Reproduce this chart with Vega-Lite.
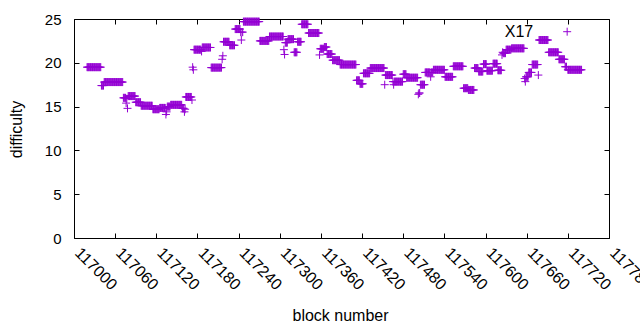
{
"$schema": "https://vega.github.io/schema/vega-lite/v6.json",
"width": 535, "height": 219,
"autosize": {"type": "none"},
"padding": {"left": 74, "top": 19, "right": 31, "bottom": 92},
"background": "white",
"config": {"view": {"stroke": "black", "strokeWidth": 1}, "font": "Liberation Sans"},
"datasets": {
"lab": [{"b": 117628, "d": 22.95, "t": "X17"}],
"pts": [
{"b":117019,"d":19.5},{"b":117020,"d":19.5},{"b":117021,"d":19.5},{"b":117022,"d":19.5},{"b":117023,"d":19.5},{"b":117024,"d":19.5},{"b":117025,"d":19.5},{"b":117026,"d":19.5},{"b":117027,"d":19.5},{"b":117028,"d":19.5},{"b":117029,"d":19.5},{"b":117030,"d":19.5},{"b":117031,"d":19.5},{"b":117032,"d":19.5},{"b":117033,"d":19.5},{"b":117034,"d":19.5},{"b":117035,"d":19.5},{"b":117036,"d":19.5},{"b":117037,"d":19.5},{"b":117038,"d":19.5},{"b":117039,"d":19.5},
{"b":117040,"d":17.4},{"b":117041,"d":17.4},{"b":117042,"d":17.4},{"b":117043,"d":17.4},
{"b":117044,"d":17.8},{"b":117045,"d":17.8},{"b":117046,"d":17.8},{"b":117047,"d":17.8},{"b":117048,"d":17.8},{"b":117049,"d":17.8},{"b":117050,"d":17.8},{"b":117051,"d":17.8},{"b":117052,"d":17.8},{"b":117053,"d":17.8},{"b":117054,"d":17.8},{"b":117055,"d":17.8},{"b":117056,"d":17.8},{"b":117057,"d":17.8},{"b":117058,"d":17.8},{"b":117059,"d":17.8},{"b":117060,"d":17.8},{"b":117061,"d":17.8},{"b":117062,"d":17.8},{"b":117063,"d":17.8},{"b":117064,"d":17.8},{"b":117065,"d":17.8},{"b":117066,"d":17.8},{"b":117067,"d":17.8},{"b":117068,"d":17.8},{"b":117069,"d":17.8},{"b":117070,"d":17.8},{"b":117071,"d":17.8},
{"b":117072,"d":16.0},{"b":117073,"d":16.0},{"b":117074,"d":16.0},{"b":117075,"d":16.0},
{"b":117076,"d":15.4},{"b":117077,"d":15.9},{"b":117078,"d":14.8},
{"b":117079,"d":16.2},{"b":117080,"d":16.2},{"b":117081,"d":16.2},{"b":117082,"d":16.2},{"b":117083,"d":16.2},{"b":117084,"d":16.2},{"b":117085,"d":16.2},{"b":117086,"d":16.2},{"b":117087,"d":16.2},{"b":117088,"d":16.2},{"b":117089,"d":16.2},
{"b":117090,"d":15.5},{"b":117091,"d":15.5},{"b":117092,"d":15.5},{"b":117093,"d":15.5},{"b":117094,"d":15.5},{"b":117095,"d":15.5},{"b":117096,"d":15.5},{"b":117097,"d":15.5},
{"b":117098,"d":15.1},{"b":117099,"d":15.1},{"b":117100,"d":15.1},{"b":117101,"d":15.1},{"b":117102,"d":15.1},{"b":117103,"d":15.1},{"b":117104,"d":15.1},{"b":117105,"d":15.1},{"b":117106,"d":15.1},{"b":117107,"d":15.1},{"b":117108,"d":15.1},{"b":117109,"d":15.1},{"b":117110,"d":15.1},{"b":117111,"d":15.1},{"b":117112,"d":15.1},{"b":117113,"d":15.1},{"b":117114,"d":15.1},
{"b":117115,"d":14.7},{"b":117116,"d":14.7},{"b":117117,"d":14.7},{"b":117118,"d":14.7},{"b":117119,"d":14.7},{"b":117120,"d":14.7},{"b":117121,"d":14.7},{"b":117122,"d":14.7},{"b":117123,"d":14.7},{"b":117124,"d":14.7},
{"b":117125,"d":14.85},{"b":117126,"d":14.85},{"b":117127,"d":14.85},{"b":117128,"d":14.85},{"b":117129,"d":14.85},{"b":117130,"d":14.85},{"b":117131,"d":14.85},{"b":117132,"d":14.85},{"b":117133,"d":14.85},
{"b":117134,"d":14.1},{"b":117135,"d":14.4},
{"b":117136,"d":15.0},{"b":117137,"d":15.0},{"b":117138,"d":15.0},{"b":117139,"d":15.0},{"b":117140,"d":15.0},
{"b":117141,"d":15.2},{"b":117142,"d":15.2},{"b":117143,"d":15.2},{"b":117144,"d":15.2},{"b":117145,"d":15.2},{"b":117146,"d":15.2},{"b":117147,"d":15.2},{"b":117148,"d":15.2},{"b":117149,"d":15.2},{"b":117150,"d":15.2},{"b":117151,"d":15.2},{"b":117152,"d":15.2},{"b":117153,"d":15.2},{"b":117154,"d":15.2},{"b":117155,"d":15.2},{"b":117156,"d":15.2},{"b":117157,"d":15.2},
{"b":117158,"d":14.8},{"b":117159,"d":14.8},{"b":117160,"d":14.8},{"b":117161,"d":14.4},{"b":117162,"d":14.7},
{"b":117163,"d":16.1},{"b":117164,"d":16.1},{"b":117165,"d":16.1},{"b":117166,"d":16.1},{"b":117167,"d":16.1},{"b":117168,"d":16.1},{"b":117169,"d":16.1},{"b":117170,"d":16.1},{"b":117171,"d":16.1},
{"b":117172,"d":15.75},{"b":117173,"d":19.5},{"b":117174,"d":19.2},
{"b":117175,"d":21.5},{"b":117176,"d":21.5},{"b":117177,"d":21.5},{"b":117178,"d":21.5},{"b":117179,"d":21.5},{"b":117180,"d":21.5},{"b":117181,"d":21.5},{"b":117182,"d":21.5},{"b":117183,"d":21.5},{"b":117184,"d":21.5},{"b":117185,"d":21.5},
{"b":117186,"d":21.3},
{"b":117187,"d":21.75},{"b":117188,"d":21.75},{"b":117189,"d":21.75},{"b":117190,"d":21.75},{"b":117191,"d":21.75},{"b":117192,"d":21.75},{"b":117193,"d":21.75},{"b":117194,"d":21.75},{"b":117195,"d":21.75},{"b":117196,"d":21.75},{"b":117197,"d":21.75},{"b":117198,"d":21.75},{"b":117199,"d":21.75},
{"b":117200,"d":19.45},{"b":117201,"d":19.45},{"b":117202,"d":19.45},{"b":117203,"d":19.45},{"b":117204,"d":19.45},{"b":117205,"d":19.45},{"b":117206,"d":19.45},{"b":117207,"d":19.45},{"b":117208,"d":19.45},{"b":117209,"d":19.45},{"b":117210,"d":19.45},{"b":117211,"d":19.45},{"b":117212,"d":19.45},{"b":117213,"d":19.45},{"b":117214,"d":19.45},{"b":117215,"d":19.45},
{"b":117216,"d":20.4},{"b":117217,"d":20.8},
{"b":117218,"d":22.4},{"b":117219,"d":22.4},{"b":117220,"d":22.4},{"b":117221,"d":22.4},{"b":117222,"d":22.4},{"b":117223,"d":22.4},{"b":117224,"d":22.4},{"b":117225,"d":22.4},{"b":117226,"d":22.4},
{"b":117227,"d":22.0},{"b":117228,"d":22.0},{"b":117229,"d":22.0},{"b":117230,"d":22.0},{"b":117231,"d":22.0},{"b":117232,"d":22.0},{"b":117233,"d":22.0},{"b":117234,"d":22.0},
{"b":117235,"d":23.85},{"b":117236,"d":23.85},{"b":117237,"d":23.85},{"b":117238,"d":23.85},{"b":117239,"d":23.85},{"b":117240,"d":23.85},{"b":117241,"d":23.85},{"b":117242,"d":23.85},
{"b":117243,"d":23.5},{"b":117244,"d":22.6},{"b":117245,"d":23.5},{"b":117246,"d":23.5},
{"b":117247,"d":24.7},{"b":117248,"d":24.7},{"b":117249,"d":24.7},{"b":117250,"d":24.7},{"b":117251,"d":24.7},{"b":117252,"d":24.7},{"b":117253,"d":24.7},{"b":117254,"d":24.7},{"b":117255,"d":24.7},{"b":117256,"d":24.7},{"b":117257,"d":24.7},{"b":117258,"d":24.7},{"b":117259,"d":24.7},{"b":117260,"d":24.7},{"b":117261,"d":24.7},{"b":117262,"d":24.7},{"b":117263,"d":24.7},{"b":117264,"d":24.7},{"b":117265,"d":24.7},{"b":117266,"d":24.7},{"b":117267,"d":24.7},{"b":117268,"d":24.7},{"b":117269,"d":24.7},{"b":117270,"d":24.7},
{"b":117271,"d":22.5},{"b":117272,"d":22.5},{"b":117273,"d":22.5},{"b":117274,"d":22.5},{"b":117275,"d":22.5},{"b":117276,"d":22.5},{"b":117277,"d":22.5},{"b":117278,"d":22.5},{"b":117279,"d":22.5},{"b":117280,"d":22.5},{"b":117281,"d":22.5},{"b":117282,"d":22.5},{"b":117283,"d":22.5},{"b":117284,"d":22.5},
{"b":117285,"d":23.0},{"b":117286,"d":23.0},{"b":117287,"d":23.0},{"b":117288,"d":23.0},{"b":117289,"d":23.0},{"b":117290,"d":23.0},{"b":117291,"d":23.0},{"b":117292,"d":23.0},{"b":117293,"d":23.0},{"b":117294,"d":23.0},{"b":117295,"d":23.0},{"b":117296,"d":23.0},{"b":117297,"d":23.0},{"b":117298,"d":23.0},{"b":117299,"d":23.0},{"b":117300,"d":23.0},{"b":117301,"d":23.0},{"b":117302,"d":23.0},{"b":117303,"d":23.0},{"b":117304,"d":23.0},{"b":117305,"d":23.0},
{"b":117306,"d":21.5},{"b":117307,"d":20.95},
{"b":117308,"d":22.3},{"b":117309,"d":22.3},{"b":117310,"d":22.3},{"b":117311,"d":22.3},
{"b":117312,"d":22.7},{"b":117313,"d":22.7},{"b":117314,"d":22.7},{"b":117315,"d":22.7},{"b":117316,"d":22.7},{"b":117317,"d":22.7},{"b":117318,"d":22.7},{"b":117319,"d":22.7},{"b":117320,"d":22.7},
{"b":117321,"d":21.2},{"b":117322,"d":21.2},{"b":117323,"d":21.2},{"b":117324,"d":21.2},{"b":117325,"d":21.2},
{"b":117326,"d":22.4},{"b":117327,"d":22.4},{"b":117328,"d":22.4},{"b":117329,"d":22.4},{"b":117330,"d":22.4},{"b":117331,"d":22.4},
{"b":117332,"d":24.4},{"b":117333,"d":24.4},{"b":117334,"d":24.4},{"b":117335,"d":24.4},{"b":117336,"d":24.4},{"b":117337,"d":24.4},{"b":117338,"d":24.4},{"b":117339,"d":24.4},{"b":117340,"d":24.4},{"b":117341,"d":24.4},
{"b":117342,"d":23.4},{"b":117343,"d":23.4},{"b":117344,"d":23.4},{"b":117345,"d":23.4},{"b":117346,"d":23.4},{"b":117347,"d":23.4},{"b":117348,"d":23.4},{"b":117349,"d":23.4},{"b":117350,"d":23.4},{"b":117351,"d":23.4},{"b":117352,"d":23.4},{"b":117353,"d":23.4},{"b":117354,"d":23.4},{"b":117355,"d":23.4},{"b":117356,"d":23.4},{"b":117357,"d":23.4},
{"b":117358,"d":20.9},
{"b":117359,"d":21.6},{"b":117360,"d":21.6},{"b":117361,"d":21.6},{"b":117362,"d":21.6},{"b":117363,"d":21.6},{"b":117364,"d":21.6},
{"b":117365,"d":21.8},{"b":117366,"d":21.8},{"b":117367,"d":21.8},{"b":117368,"d":21.8},
{"b":117369,"d":21.0},{"b":117370,"d":21.0},{"b":117371,"d":21.0},{"b":117372,"d":21.0},{"b":117373,"d":21.0},{"b":117374,"d":21.0},{"b":117375,"d":21.0},{"b":117376,"d":21.0},
{"b":117377,"d":20.3},{"b":117378,"d":20.3},{"b":117379,"d":20.3},{"b":117380,"d":20.3},{"b":117381,"d":20.3},{"b":117382,"d":20.3},{"b":117383,"d":20.3},{"b":117384,"d":20.3},{"b":117385,"d":20.3},{"b":117386,"d":20.3},{"b":117387,"d":20.3},
{"b":117388,"d":19.8},{"b":117389,"d":19.8},{"b":117390,"d":19.8},{"b":117391,"d":19.8},{"b":117392,"d":19.8},{"b":117393,"d":19.8},{"b":117394,"d":19.8},{"b":117395,"d":19.8},{"b":117396,"d":19.8},{"b":117397,"d":19.8},{"b":117398,"d":19.8},{"b":117399,"d":19.8},{"b":117400,"d":19.8},{"b":117401,"d":19.8},{"b":117402,"d":19.8},{"b":117403,"d":19.8},{"b":117404,"d":19.8},{"b":117405,"d":19.8},{"b":117406,"d":19.8},{"b":117407,"d":19.8},{"b":117408,"d":19.8},{"b":117409,"d":19.8},{"b":117410,"d":19.8},{"b":117411,"d":19.8},
{"b":117412,"d":18.0},{"b":117413,"d":18.0},{"b":117414,"d":18.0},{"b":117415,"d":18.0},{"b":117416,"d":18.0},
{"b":117417,"d":17.6},{"b":117418,"d":17.6},{"b":117419,"d":17.6},{"b":117420,"d":17.6},{"b":117421,"d":17.6},
{"b":117422,"d":18.8},{"b":117423,"d":18.8},{"b":117424,"d":18.8},{"b":117425,"d":18.8},{"b":117426,"d":18.8},{"b":117427,"d":18.8},{"b":117428,"d":18.8},{"b":117429,"d":18.8},{"b":117430,"d":18.8},{"b":117431,"d":18.8},
{"b":117432,"d":19.4},{"b":117433,"d":19.4},{"b":117434,"d":19.4},{"b":117435,"d":19.4},{"b":117436,"d":19.4},{"b":117437,"d":19.4},{"b":117438,"d":19.4},{"b":117439,"d":19.4},{"b":117440,"d":19.4},{"b":117441,"d":19.4},{"b":117442,"d":19.4},{"b":117443,"d":19.4},{"b":117444,"d":19.4},{"b":117445,"d":19.4},{"b":117446,"d":19.4},{"b":117447,"d":19.4},{"b":117448,"d":19.4},{"b":117449,"d":19.4},{"b":117450,"d":19.4},{"b":117451,"d":19.4},{"b":117452,"d":19.4},
{"b":117453,"d":17.5},
{"b":117454,"d":18.6},{"b":117455,"d":18.6},{"b":117456,"d":18.6},{"b":117457,"d":18.6},{"b":117458,"d":18.6},{"b":117459,"d":18.6},{"b":117460,"d":18.6},{"b":117461,"d":18.6},{"b":117462,"d":18.6},{"b":117463,"d":18.6},{"b":117464,"d":18.6},
{"b":117465,"d":17.85},{"b":117466,"d":17.5},
{"b":117467,"d":17.85},{"b":117468,"d":17.85},{"b":117469,"d":17.85},{"b":117470,"d":17.85},{"b":117471,"d":17.85},{"b":117472,"d":17.85},{"b":117473,"d":17.85},{"b":117474,"d":17.85},{"b":117475,"d":17.85},{"b":117476,"d":17.85},{"b":117477,"d":17.85},{"b":117478,"d":17.85},{"b":117479,"d":17.85},
{"b":117480,"d":18.7},{"b":117481,"d":18.7},{"b":117482,"d":18.7},{"b":117483,"d":18.7},{"b":117484,"d":18.7},
{"b":117485,"d":18.3},{"b":117486,"d":18.3},{"b":117487,"d":18.3},{"b":117488,"d":18.3},{"b":117489,"d":18.3},{"b":117490,"d":18.3},{"b":117491,"d":18.3},{"b":117492,"d":18.3},{"b":117493,"d":18.3},{"b":117494,"d":18.3},{"b":117495,"d":18.3},{"b":117496,"d":18.3},{"b":117497,"d":18.3},{"b":117498,"d":18.3},{"b":117499,"d":18.3},{"b":117500,"d":18.3},{"b":117501,"d":18.3},
{"b":117502,"d":16.4},{"b":117503,"d":16.55},{"b":117504,"d":16.55},
{"b":117505,"d":17.5},{"b":117506,"d":17.5},{"b":117507,"d":17.5},{"b":117508,"d":17.5},{"b":117509,"d":17.5},{"b":117510,"d":17.5},{"b":117511,"d":17.5},
{"b":117512,"d":18.9},{"b":117513,"d":18.9},{"b":117514,"d":18.9},{"b":117515,"d":18.9},{"b":117516,"d":18.9},{"b":117517,"d":18.9},{"b":117518,"d":18.9},{"b":117519,"d":18.9},
{"b":117520,"d":18.4},
{"b":117521,"d":18.9},{"b":117522,"d":18.9},{"b":117523,"d":18.9},
{"b":117524,"d":19.2},{"b":117525,"d":19.2},{"b":117526,"d":19.2},{"b":117527,"d":19.2},{"b":117528,"d":19.2},{"b":117529,"d":19.2},{"b":117530,"d":19.2},{"b":117531,"d":19.2},{"b":117532,"d":19.2},{"b":117533,"d":19.2},{"b":117534,"d":19.2},{"b":117535,"d":19.2},{"b":117536,"d":19.2},{"b":117537,"d":19.2},{"b":117538,"d":19.2},{"b":117539,"d":19.2},{"b":117540,"d":19.2},
{"b":117541,"d":18.4},{"b":117542,"d":18.4},{"b":117543,"d":18.4},{"b":117544,"d":18.4},{"b":117545,"d":18.4},{"b":117546,"d":18.4},{"b":117547,"d":18.4},{"b":117548,"d":18.4},{"b":117549,"d":18.4},{"b":117550,"d":18.4},{"b":117551,"d":18.4},{"b":117552,"d":18.4},
{"b":117553,"d":19.6},{"b":117554,"d":19.6},{"b":117555,"d":19.6},{"b":117556,"d":19.6},{"b":117557,"d":19.6},{"b":117558,"d":19.6},{"b":117559,"d":19.6},{"b":117560,"d":19.6},{"b":117561,"d":19.6},{"b":117562,"d":19.6},{"b":117563,"d":19.6},{"b":117564,"d":19.6},{"b":117565,"d":19.6},{"b":117566,"d":19.6},{"b":117567,"d":19.6},
{"b":117568,"d":17.1},{"b":117569,"d":17.1},{"b":117570,"d":17.1},{"b":117571,"d":17.1},{"b":117572,"d":17.1},{"b":117573,"d":17.1},{"b":117574,"d":17.1},
{"b":117575,"d":16.9},{"b":117576,"d":16.9},{"b":117577,"d":16.9},{"b":117578,"d":16.9},{"b":117579,"d":16.9},{"b":117580,"d":16.9},{"b":117581,"d":16.9},{"b":117582,"d":16.9},{"b":117583,"d":16.9},
{"b":117584,"d":19.4},{"b":117585,"d":19.4},{"b":117586,"d":19.4},{"b":117587,"d":19.4},{"b":117588,"d":19.4},{"b":117589,"d":19.4},
{"b":117590,"d":19.0},{"b":117591,"d":19.0},{"b":117592,"d":19.0},{"b":117593,"d":19.0},{"b":117594,"d":19.0},{"b":117595,"d":19.0},{"b":117596,"d":19.0},
{"b":117597,"d":19.85},{"b":117598,"d":19.85},{"b":117599,"d":19.85},{"b":117600,"d":19.85},{"b":117601,"d":19.85},
{"b":117602,"d":19.1},{"b":117603,"d":19.1},{"b":117604,"d":19.1},{"b":117605,"d":19.1},{"b":117606,"d":19.1},{"b":117607,"d":19.1},{"b":117608,"d":19.1},{"b":117609,"d":19.1},{"b":117610,"d":19.1},
{"b":117611,"d":19.9},{"b":117612,"d":19.9},{"b":117613,"d":19.9},{"b":117614,"d":19.9},{"b":117615,"d":19.9},{"b":117616,"d":19.9},{"b":117617,"d":19.9},
{"b":117618,"d":19.15},{"b":117619,"d":19.15},{"b":117620,"d":19.15},{"b":117621,"d":19.15},{"b":117622,"d":19.15},{"b":117623,"d":19.15},
{"b":117624,"d":20.9},{"b":117625,"d":21.2},
{"b":117626,"d":21.1},{"b":117627,"d":21.1},{"b":117628,"d":21.1},{"b":117629,"d":21.1},
{"b":117630,"d":21.5},{"b":117631,"d":21.5},{"b":117632,"d":21.5},{"b":117633,"d":21.5},{"b":117634,"d":21.5},{"b":117635,"d":21.5},{"b":117636,"d":21.5},{"b":117637,"d":21.5},
{"b":117638,"d":21.65},{"b":117639,"d":21.65},{"b":117640,"d":21.65},{"b":117641,"d":21.65},{"b":117642,"d":21.65},{"b":117643,"d":21.65},{"b":117644,"d":21.65},{"b":117645,"d":21.65},{"b":117646,"d":21.65},{"b":117647,"d":21.65},{"b":117648,"d":21.65},{"b":117649,"d":21.65},{"b":117650,"d":21.65},{"b":117651,"d":21.65},{"b":117652,"d":21.65},{"b":117653,"d":21.65},{"b":117654,"d":21.65},{"b":117655,"d":21.65},{"b":117656,"d":21.65},
{"b":117657,"d":18.2},{"b":117658,"d":17.85},
{"b":117659,"d":18.4},{"b":117660,"d":18.4},{"b":117661,"d":18.4},{"b":117662,"d":18.4},
{"b":117663,"d":18.9},{"b":117664,"d":18.9},{"b":117665,"d":18.9},{"b":117666,"d":18.9},{"b":117667,"d":18.9},
{"b":117668,"d":19.8},{"b":117669,"d":19.8},{"b":117670,"d":19.8},{"b":117671,"d":19.8},{"b":117672,"d":19.8},{"b":117673,"d":19.8},{"b":117674,"d":19.8},{"b":117675,"d":19.8},{"b":117676,"d":19.8},
{"b":117677,"d":18.6},
{"b":117678,"d":22.6},{"b":117679,"d":22.6},{"b":117680,"d":22.6},{"b":117681,"d":22.6},{"b":117682,"d":22.6},{"b":117683,"d":22.6},{"b":117684,"d":22.6},{"b":117685,"d":22.6},{"b":117686,"d":22.6},{"b":117687,"d":22.6},{"b":117688,"d":22.6},{"b":117689,"d":22.6},{"b":117690,"d":22.6},{"b":117691,"d":22.6},
{"b":117692,"d":21.2},{"b":117693,"d":21.2},{"b":117694,"d":21.2},{"b":117695,"d":21.2},{"b":117696,"d":21.2},{"b":117697,"d":21.2},{"b":117698,"d":21.2},{"b":117699,"d":21.2},{"b":117700,"d":21.2},{"b":117701,"d":21.2},{"b":117702,"d":21.2},{"b":117703,"d":21.2},{"b":117704,"d":21.2},{"b":117705,"d":21.2},{"b":117706,"d":21.2},
{"b":117707,"d":20.4},{"b":117708,"d":20.4},{"b":117709,"d":20.4},{"b":117710,"d":20.4},{"b":117711,"d":20.4},{"b":117712,"d":20.4},{"b":117713,"d":20.4},{"b":117714,"d":20.4},{"b":117715,"d":20.4},
{"b":117716,"d":19.55},{"b":117717,"d":19.55},{"b":117718,"d":19.55},
{"b":117719,"d":23.55},
{"b":117720,"d":19.2},{"b":117721,"d":19.2},{"b":117722,"d":19.2},{"b":117723,"d":19.2},{"b":117724,"d":19.2},{"b":117725,"d":19.2},{"b":117726,"d":19.2},{"b":117727,"d":19.2},{"b":117728,"d":19.2},{"b":117729,"d":19.2},{"b":117730,"d":19.2},{"b":117731,"d":19.2},{"b":117732,"d":19.2},{"b":117733,"d":19.2},{"b":117734,"d":19.2},{"b":117735,"d":19.2},{"b":117736,"d":19.2},{"b":117737,"d":19.2},{"b":117738,"d":19.2},{"b":117739,"d":19.2},{"b":117740,"d":19.2}
]
},
"layer": [
{
"data": {"name": "pts"},
"mark": {"type": "point", "shape": "M-1,0H1M0,-1V1", "filled": false, "stroke": "#9400d3", "strokeWidth": 1, "size": 64, "opacity": 1},
"encoding": {
"x": {"field": "b", "type": "quantitative", "scale": {"domain": [117000, 117780], "nice": false, "zero": false},
 "axis": {"orient": "bottom", "values": [117000,117060,117120,117180,117240,117300,117360,117420,117480,117540,117600,117660,117720,117780], "format": "d", "domain": false, "grid": false, "tickSize": -5, "tickColor": "black", "labelPadding": 17, "labelOffset": 3, "labelAngle": 45, "labelAlign": "left", "labelBaseline": "middle", "labelFontSize": 16, "labelColor": "black", "labelOverlap": false, "labelBound": false, "labelFlush": false, "title": "block number", "titleFontSize": 16, "titleFontWeight": "normal", "titleColor": "black", "titleX": 266, "titleY": 77, "titleBaseline": "middle", "titleAlign": "center"}},
"y": {"field": "d", "type": "quantitative", "scale": {"domain": [0, 25], "nice": false, "zero": false},
 "axis": {"orient": "left", "values": [0,5,10,15,20,25], "domain": false, "grid": false, "tickSize": -5, "tickColor": "black", "labelPadding": 18, "labelFontSize": 15, "labelColor": "black", "labelFlush": false, "title": "difficulty", "titleFontSize": 16, "titleFontWeight": "normal", "titleColor": "black", "titleX": -58, "titleY": 110, "titleAngle": -90, "titleBaseline": "middle", "titleAlign": "center"}}
}
},
{
"data": {"name": "lab"},
"mark": {"type": "text", "align": "left", "baseline": "alphabetic", "fontSize": 16, "color": "black"},
"encoding": {
"x": {"field": "b", "type": "quantitative", "axis": {"orient": "top", "values": [117000,117060,117120,117180,117240,117300,117360,117420,117480,117540,117600,117660,117720,117780], "labels": false, "domain": false, "grid": false, "tickSize": -5, "tickColor": "black", "title": null}},
"y": {"field": "d", "type": "quantitative", "axis": {"orient": "right", "values": [0,5,10,15,20,25], "labels": false, "domain": false, "grid": false, "tickSize": -5, "tickColor": "black", "title": null}},
"text": {"field": "t"}
}
}
],
"resolve": {"axis": {"x": "independent", "y": "independent"}}
}
